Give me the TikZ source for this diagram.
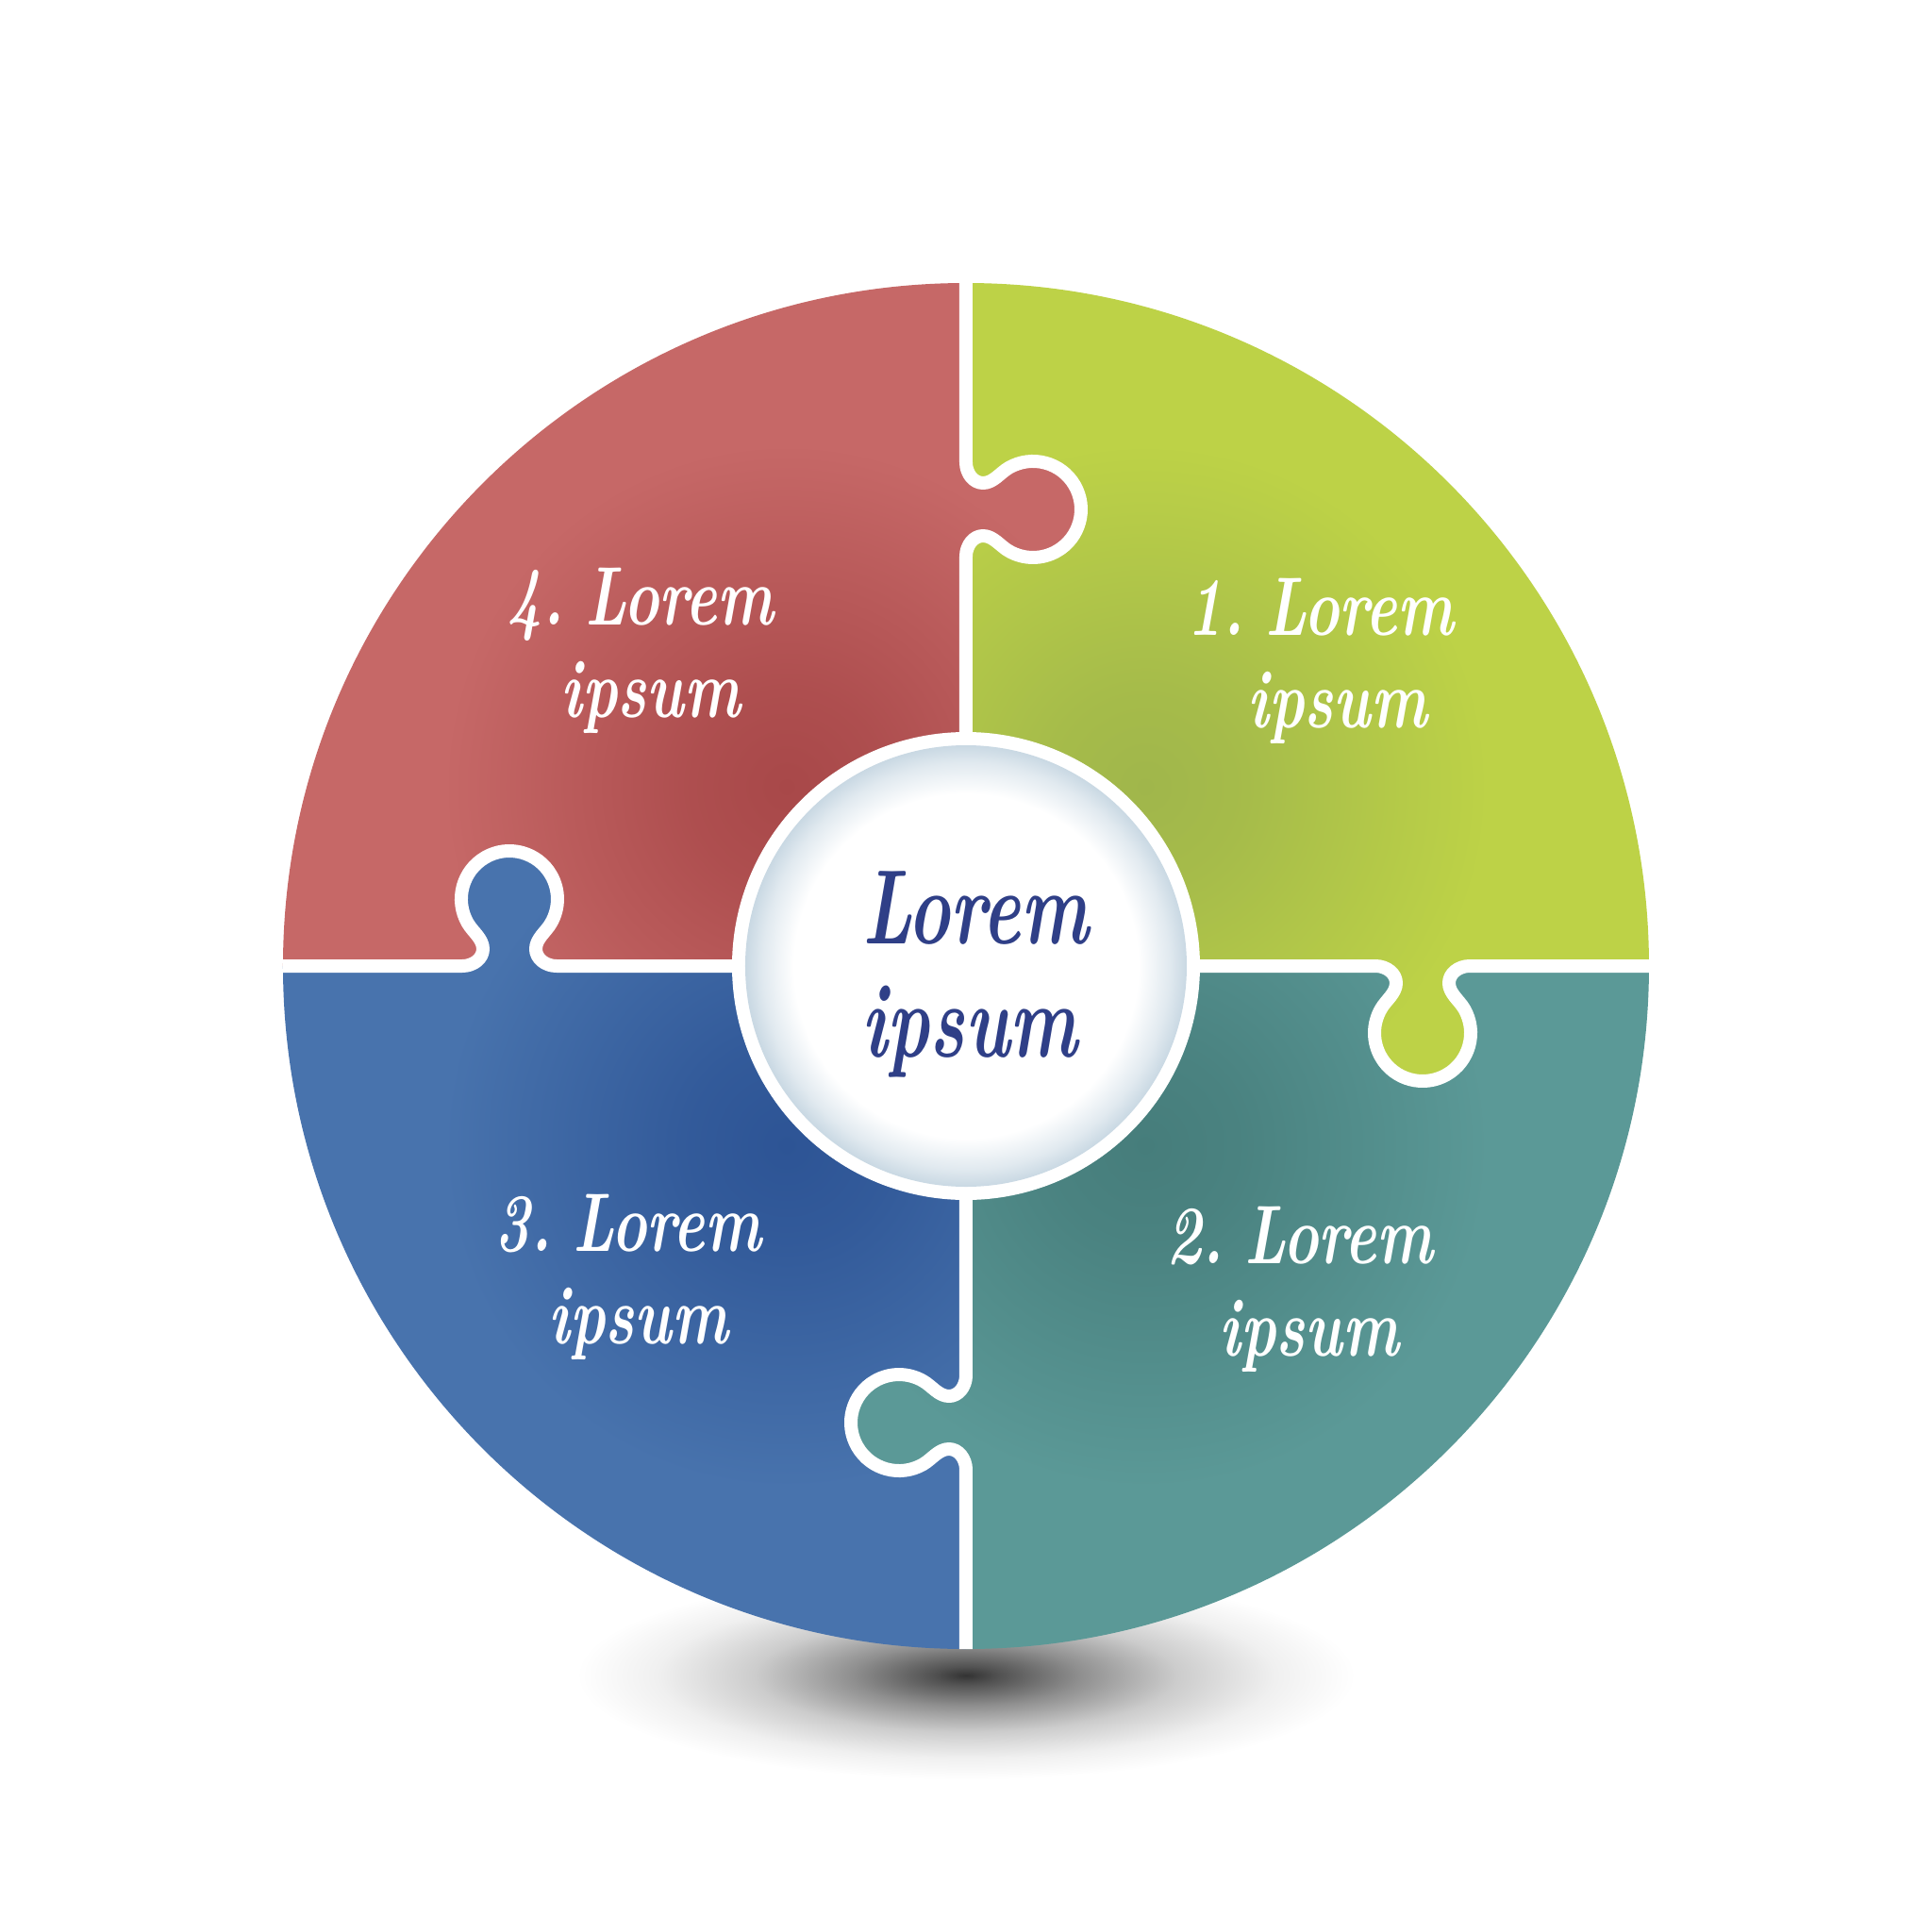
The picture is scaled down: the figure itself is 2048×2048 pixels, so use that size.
\documentclass[tikz,border=0pt]{standalone}
\definecolor{grnL}{HTML}{BDD247}
\definecolor{grnD}{HTML}{A0B64B}
\definecolor{redL}{HTML}{C66867}
\definecolor{redD}{HTML}{A84849}
\definecolor{bluL}{HTML}{4873AD}
\definecolor{bluD}{HTML}{2D5495}
\definecolor{tlL}{HTML}{5B9997}
\definecolor{tlD}{HTML}{467D7B}
\definecolor{ctrblue}{HTML}{2F3F87}
\definecolor{ringedge}{HTML}{C3D4E0}
\pgfdeclareradialshading{redsh}{\pgfpointorigin}{color(0bp)=(redD); color(4bp)=(redD!80!redL); color(14bp)=(redL); color(50bp)=(redL)}
\pgfdeclareradialshading{grnsh}{\pgfpointorigin}{color(0bp)=(grnD); color(4bp)=(grnD!80!grnL); color(14bp)=(grnL); color(50bp)=(grnL)}
\pgfdeclareradialshading{blush}{\pgfpointorigin}{color(0bp)=(bluD); color(4bp)=(bluD!80!bluL); color(14bp)=(bluL); color(50bp)=(bluL)}
\pgfdeclareradialshading{tlsh}{\pgfpointorigin}{color(0bp)=(tlD); color(4bp)=(tlD!80!tlL); color(14bp)=(tlL); color(50bp)=(tlL)}
\pgfdeclareradialshading{ringsh}{\pgfpointorigin}{color(0bp)=(white); color(19.5bp)=(white); color(23bp)=(ringedge!50!white); color(25bp)=(ringedge!90!white); color(50bp)=(ringedge)}
\pgfdeclareradialshading{shadsh}{\pgfpointorigin}{color(0bp)=(black!80); color(2bp)=(black!68); color(7bp)=(black!44); color(13bp)=(black!20); color(19bp)=(black!6); color(24bp)=(white); color(50bp)=(white)}
\def\tabpath{(0,534) .. controls (0,522) and (8,512) .. (18,512) .. controls (29,512) and (36,522.7) .. (45.5,528.2) arc[start angle=120,end angle=-120,radius=51] .. controls (36,445.3) and (29,456) .. (18,456) .. controls (8,456) and (0,446) .. (0,434)}
\newcommand{\lblfont}{\fontsize{22}{24}\selectfont\bfseries\itshape\spaceskip=0.22em\relax}
\newcommand{\quadpiece}[4]{%
  \begin{scope}
    \clip (0,0) -- (#1:724) arc[start angle=#1, end angle=#1+90, radius=724] -- cycle;
    \shade[shading=#2] (#3,#4) circle (650);
  \end{scope}}
\newcommand{\tabpiece}[2]{%
  \begin{scope}[rotate=#1]
    \clip \tabpath -- cycle;
    \shade[shading=#2] (-190,190) circle (650);
  \end{scope}}
\newcommand{\cutline}[1]{\draw[cut, rotate=#1] (0,724) -- \tabpath -- (0,240);}
\begin{document}
\begin{tikzpicture}[x=0.25pt,y=0.25pt,
  cut/.style={draw=white, line width=3.5pt, line join=round},
  lbl/.style={text=white, font=\lblfont, xscale=0.72, inner sep=0pt, anchor=base},
  ctr/.style={text=ctrblue, font=\fontsize{28}{30}\selectfont\bfseries\itshape, xscale=0.68, inner sep=0pt, anchor=base}]
\fill[white] (-1024,-1024) rectangle (1024,1024);
\useasboundingbox (-1024,-1024) rectangle (1024,1024);
% shadow
\shade[shading=shadsh] (0,-752) ellipse (430 and 115);
% quadrants
\quadpiece{0}{grnsh}{190}{190}
\quadpiece{90}{redsh}{-190}{190}
\quadpiece{180}{blush}{-190}{-190}
\quadpiece{270}{tlsh}{190}{-190}
% tabs
\tabpiece{0}{redsh}
\tabpiece{-90}{grnsh}
\tabpiece{-180}{tlsh}
\tabpiece{-270}{blush}
% cut lines
\cutline{0}
\cutline{-90}
\cutline{-180}
\cutline{-270}
% centre ring
\fill[white] (0,0) circle (248);
\shade[shading=ringsh] (0,0) circle (234);
% labels
\node[lbl] (l1a) at (376,351) {1. Lorem};
\node[lbl] (l1b) at (394,253) {ipsum};
\node[lbl] (l2a) at (354,-315) {2. Lorem};
\node[lbl] (l2b) at (364,-413) {ipsum};
\node[lbl] (l3a) at (-358,-302) {3. Lorem};
\node[lbl] (l3b) at (-347,-400) {ipsum};
\node[lbl] (l4a) at (-345,362) {4. Lorem};
\node[lbl] (l4b) at (-334,264) {ipsum};
\node[ctr] (ca) at (10,24) {Lorem};
\node[ctr] (cb) at (4,-96) {ipsum};
\end{tikzpicture}
\end{document}
